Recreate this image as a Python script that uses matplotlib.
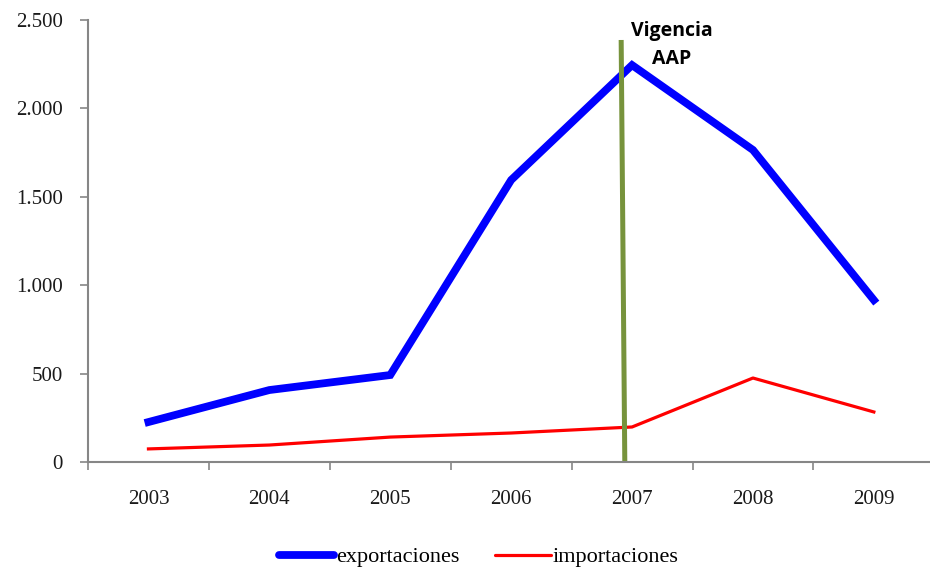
import numpy as np
import matplotlib.pyplot as plt
from matplotlib.ticker import FuncFormatter

# datos (millones)
years = ["2003", "2004", "2005", "2006", "2007", "2008", "2009"]
export_vals = [226, 407, 492, 1595, 2245, 1765, 916]
import_vals = [74, 96, 141, 164, 198, 475, 283]

# linea de vigencia del acuerdo
aap_x = [3.91, 3.94]
aap_y = [2387, 0]
aap_label = "Vigencia\nAAP"

serif = ["Liberation Serif", "DejaVu Serif"]
grey = "#868686"

fig = plt.figure(figsize=(9.3, 5.69), dpi=100)
ax = fig.add_axes([88/930, 1 - 462/569, (930-88)/930, (462-20)/569])

x = np.arange(len(years))
ax.plot(x, export_vals, color="#0000FF", lw=5.6, solid_joinstyle="miter",
        label="exportaciones")
ax.plot(x, import_vals, color="#FF0000", lw=2.3, label="importaciones")
ax.plot(aap_x, aap_y, color="#77933C", lw=3.6, solid_capstyle="butt")
ax.text(4.33, 2358, aap_label, ha="center", va="center", fontsize=14,
        fontweight="bold", family=["Open Sans", "DejaVu Sans"], linespacing=1.5,
        clip_on=False)

ax.set_ylim(0, 2500)
ax.set_xlim(-0.5, -0.5 + 842/120.9)
ax.set_yticks(np.arange(0, 2501, 500))
ax.yaxis.set_major_formatter(FuncFormatter(lambda v, p: f"{int(v):,}".replace(",", ".")))

# ticks en los bordes de categoria, etiquetas en el centro
ax.set_xticks(np.arange(-0.5, 6.5, 1.0))
ax.set_xticklabels([])
ax.set_xticks(x, minor=True)
ax.set_xticklabels(years, minor=True)
ax.tick_params(axis="x", which="minor", length=0, pad=20)
ax.tick_params(axis="both", which="major", direction="out", length=6, color=grey, width=1.2)
ax.tick_params(axis="y", pad=12)

for lab in ax.get_xticklabels(minor=True) + ax.get_yticklabels():
    lab.set_family(serif)
    lab.set_fontsize(15)
    lab.set_color("#1a1a1a")

for s in ["top", "right"]:
    ax.spines[s].set_visible(False)
for s in ["left", "bottom"]:
    ax.spines[s].set_color(grey)
    ax.spines[s].set_linewidth(1.5)

leg = ax.legend(loc="center", bbox_to_anchor=(0.464, -0.215), ncol=2, frameon=False,
                prop={"family": serif, "size": 16}, handlelength=2.5, handletextpad=0.1,
                columnspacing=1.6)
for h in leg.get_lines():
    h.set_solid_capstyle("round")

plt.savefig("out.png")
